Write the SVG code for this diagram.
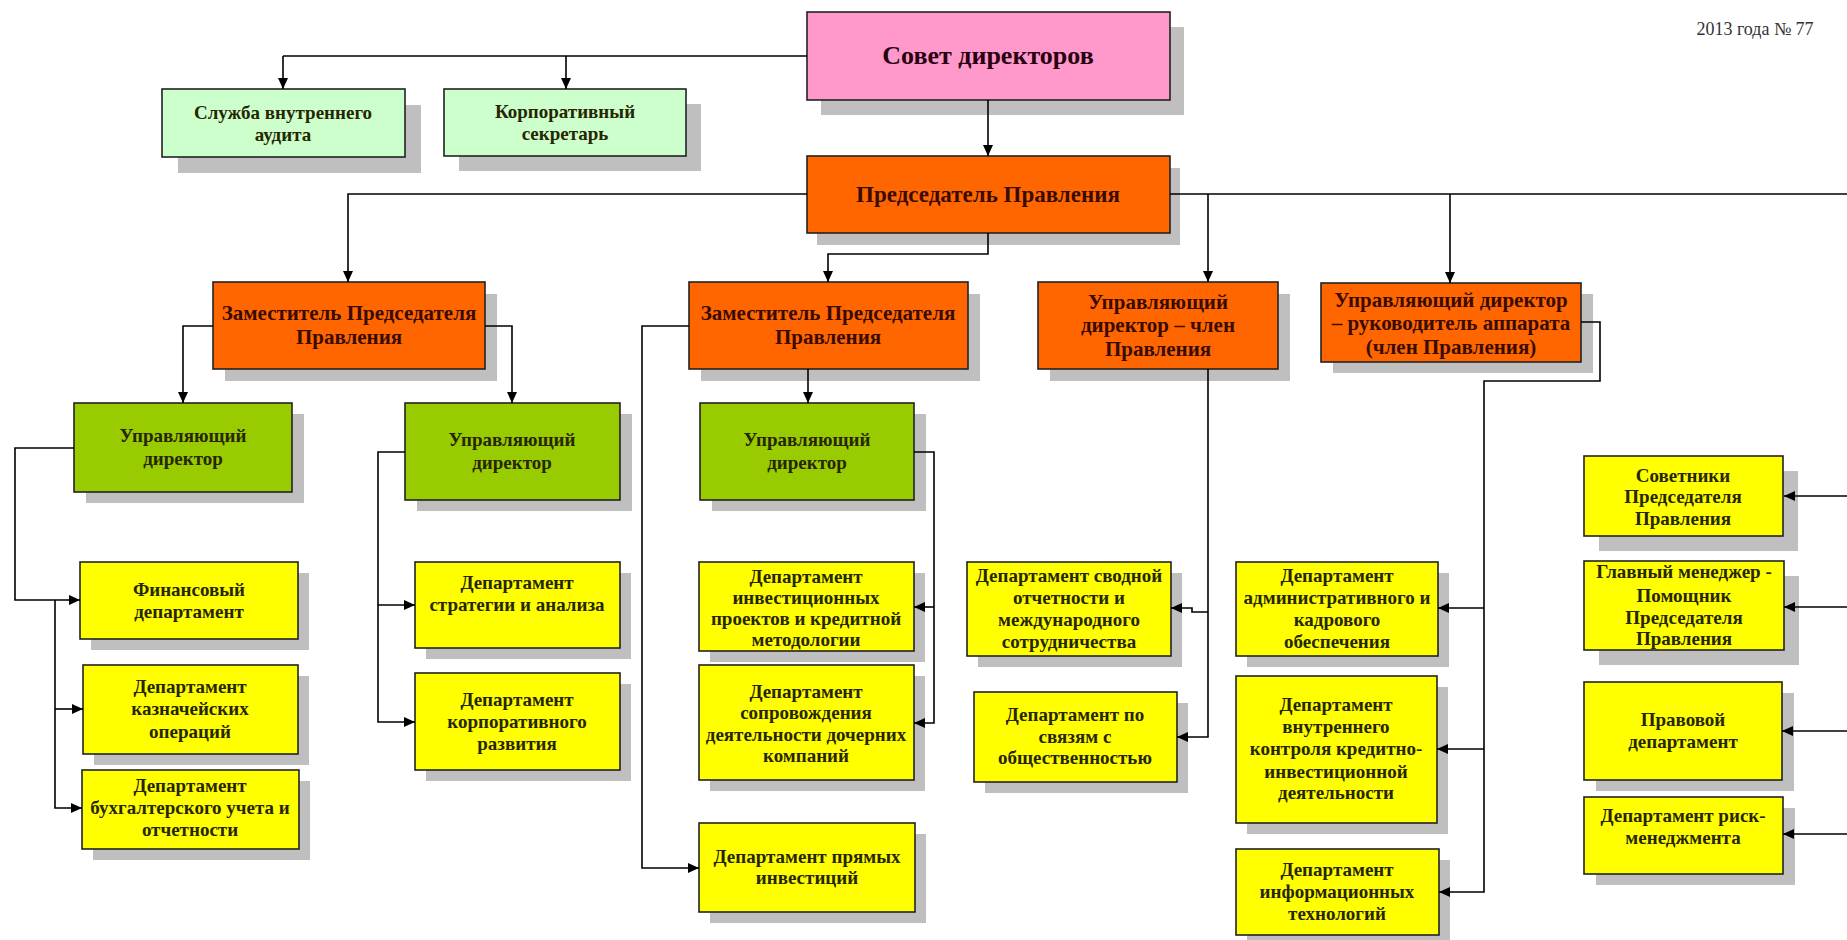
<svg xmlns="http://www.w3.org/2000/svg" width="1847" height="940" viewBox="0 0 1847 940">
<defs>
<marker id="ah" markerWidth="12" markerHeight="10" refX="11" refY="5" orient="auto" markerUnits="userSpaceOnUse">
<path d="M0,0 L11,5 L0,10 z" fill="#000"/>
</marker>
<style>
.sh{fill:#bfbfbf}
.bx{stroke:#222;stroke-width:1.6}
.pink{fill:#ff99cc}
.or{fill:#ff6600}
.gr{fill:#99cc00}
.lg{fill:#ccffcc}
.ye{fill:#ffff00}
text{font-family:"Liberation Serif","Times New Roman",serif;font-weight:bold;text-anchor:middle;fill:#262600}
.t{font-size:19px}
.tz{font-size:21px;fill:#3a0c00}
.tp{font-size:23px;fill:#3a0c00}
.ts{font-size:26px;fill:#2a0010}
.cn{fill:none;stroke:#000;stroke-width:1.6}
.cna{fill:none;stroke:#000;stroke-width:1.6;marker-end:url(#ah)}
.note{font-weight:normal;font-size:18px;fill:#333}
</style>
</defs>

<text class="note" x="1755" y="35">2013 года № 77</text>

<g id="sovet">
<rect class="sh" x="821" y="27" width="363" height="88"/>
<rect class="bx pink" x="807" y="12" width="363" height="88"/>
<text class="ts" x="988" y="64">Совет директоров</text>
</g>

<g id="audit">
<rect class="sh" x="178" y="105" width="243" height="68"/>
<rect class="bx lg" x="162" y="89" width="243" height="68"/>
<text class="t" x="283" y="119">Служба внутреннего</text>
<text class="t" x="283" y="141">аудита</text>
</g>

<g id="secretary">
<rect class="sh" x="459" y="104" width="242" height="67"/>
<rect class="bx lg" x="444" y="89" width="242" height="67"/>
<text class="t" x="565" y="118">Корпоративный</text>
<text class="t" x="565" y="140">секретарь</text>
</g>

<g id="chairman">
<rect class="sh" x="817" y="168" width="363" height="77"/>
<rect class="bx or" x="807" y="156" width="363" height="77"/>
<text class="tp" x="988" y="202">Председатель Правления</text>
</g>

<g id="deputy1">
<rect class="sh" x="225" y="294" width="272" height="87"/>
<rect class="bx or" x="213" y="282" width="272" height="87"/>
<text class="tz" x="349" y="320">Заместитель Председателя</text>
<text class="tz" x="349" y="344">Правления</text>
</g>

<g id="deputy2">
<rect class="sh" x="701" y="294" width="279" height="87"/>
<rect class="bx or" x="689" y="282" width="279" height="87"/>
<text class="tz" x="828" y="320">Заместитель Председателя</text>
<text class="tz" x="828" y="344">Правления</text>
</g>

<g id="md-member">
<rect class="sh" x="1050" y="294" width="240" height="87"/>
<rect class="bx or" x="1038" y="282" width="240" height="87"/>
<text class="tz" x="1158" y="309">Управляющий</text>
<text class="tz" x="1158" y="332">директор – член</text>
<text class="tz" x="1158" y="356">Правления</text>
</g>

<g id="md-office">
<rect class="sh" x="1333" y="294" width="260" height="79"/>
<rect class="bx or" x="1321" y="283" width="260" height="79"/>
<text class="tz" x="1451" y="307">Управляющий директор</text>
<text class="tz" x="1451" y="330">– руководитель аппарата</text>
<text class="tz" x="1451" y="354">(член Правления)</text>
</g>

<g id="md1">
<rect class="sh" x="86" y="414" width="218" height="89"/>
<rect class="bx gr" x="74" y="403" width="218" height="89"/>
<text class="t" x="183" y="442">Управляющий</text>
<text class="t" x="183" y="465">директор</text>
</g>

<g id="md2">
<rect class="sh" x="417" y="414" width="215" height="97"/>
<rect class="bx gr" x="405" y="403" width="215" height="97"/>
<text class="t" x="512" y="446">Управляющий</text>
<text class="t" x="512" y="469">директор</text>
</g>

<g id="md3">
<rect class="sh" x="712" y="414" width="214" height="97"/>
<rect class="bx gr" x="700" y="403" width="214" height="97"/>
<text class="t" x="807" y="446">Управляющий</text>
<text class="t" x="807" y="469">директор</text>
</g>

<g id="finance">
<rect class="sh" x="91" y="573" width="218" height="77"/>
<rect class="bx ye" x="80" y="562" width="218" height="77"/>
<text class="t" x="189" y="596">Финансовый</text>
<text class="t" x="189" y="618">департамент</text>
</g>

<g id="treasury">
<rect class="sh" x="94" y="676" width="215" height="89"/>
<rect class="bx ye" x="83" y="665" width="215" height="89"/>
<text class="t" x="190" y="693">Департамент</text>
<text class="t" x="190" y="715">казначейских</text>
<text class="t" x="190" y="738">операций</text>
</g>

<g id="accounting">
<rect class="sh" x="93" y="781" width="217" height="79"/>
<rect class="bx ye" x="82" y="770" width="217" height="79"/>
<text class="t" x="190" y="792">Департамент</text>
<text class="t" x="190" y="814">бухгалтерского учета и</text>
<text class="t" x="190" y="836">отчетности</text>
</g>

<g id="strategy">
<rect class="sh" x="426" y="573" width="205" height="86"/>
<rect class="bx ye" x="415" y="562" width="205" height="86"/>
<text class="t" x="517" y="589">Департамент</text>
<text class="t" x="517" y="611">стратегии и анализа</text>
</g>

<g id="corpdev">
<rect class="sh" x="426" y="684" width="205" height="97"/>
<rect class="bx ye" x="415" y="673" width="205" height="97"/>
<text class="t" x="517" y="706">Департамент</text>
<text class="t" x="517" y="728">корпоративного</text>
<text class="t" x="517" y="750">развития</text>
</g>

<g id="invest">
<rect class="sh" x="710" y="573" width="215" height="89"/>
<rect class="bx ye" x="699" y="562" width="215" height="89"/>
<text class="t" x="806" y="583">Департамент</text>
<text class="t" x="806" y="604">инвестиционных</text>
<text class="t" x="806" y="625">проектов и кредитной</text>
<text class="t" x="806" y="646">методологии</text>
</g>

<g id="subsidiaries">
<rect class="sh" x="710" y="676" width="215" height="115"/>
<rect class="bx ye" x="699" y="665" width="215" height="115"/>
<text class="t" x="806" y="698">Департамент</text>
<text class="t" x="806" y="719">сопровождения</text>
<text class="t" x="806" y="741">деятельности дочерних</text>
<text class="t" x="806" y="762">компаний</text>
</g>

<g id="direct">
<rect class="sh" x="710" y="834" width="216" height="89"/>
<rect class="bx ye" x="699" y="823" width="216" height="89"/>
<text class="t" x="807" y="863">Департамент прямых</text>
<text class="t" x="807" y="884">инвестиций</text>
</g>

<g id="consolidated">
<rect class="sh" x="978" y="573" width="204" height="94"/>
<rect class="bx ye" x="967" y="562" width="204" height="94"/>
<text class="t" x="1069" y="582">Департамент сводной</text>
<text class="t" x="1069" y="604">отчетности и</text>
<text class="t" x="1069" y="626">международного</text>
<text class="t" x="1069" y="648">сотрудничества</text>
</g>

<g id="pr">
<rect class="sh" x="985" y="703" width="203" height="90"/>
<rect class="bx ye" x="974" y="692" width="203" height="90"/>
<text class="t" x="1075" y="721">Департамент по</text>
<text class="t" x="1075" y="743">связям с</text>
<text class="t" x="1075" y="764">общественностью</text>
</g>

<g id="admin">
<rect class="sh" x="1247" y="573" width="202" height="94"/>
<rect class="bx ye" x="1236" y="562" width="202" height="94"/>
<text class="t" x="1337" y="582">Департамент</text>
<text class="t" x="1337" y="604">административного и</text>
<text class="t" x="1337" y="626">кадрового</text>
<text class="t" x="1337" y="648">обеспечения</text>
</g>

<g id="control">
<rect class="sh" x="1247" y="687" width="201" height="147"/>
<rect class="bx ye" x="1236" y="676" width="201" height="147"/>
<text class="t" x="1336" y="711">Департамент</text>
<text class="t" x="1336" y="733">внутреннего</text>
<text class="t" x="1336" y="755">контроля кредитно-</text>
<text class="t" x="1336" y="778">инвестиционной</text>
<text class="t" x="1336" y="799">деятельности</text>
</g>

<g id="it">
<rect class="sh" x="1247" y="860" width="203" height="86"/>
<rect class="bx ye" x="1236" y="849" width="203" height="86"/>
<text class="t" x="1337" y="876">Департамент</text>
<text class="t" x="1337" y="898">информационных</text>
<text class="t" x="1337" y="920">технологий</text>
</g>

<g id="advisers">
<rect class="sh" x="1599" y="471" width="199" height="80"/>
<rect class="bx ye" x="1584" y="456" width="199" height="80"/>
<text class="t" x="1683" y="482">Советники</text>
<text class="t" x="1683" y="503">Председателя</text>
<text class="t" x="1683" y="525">Правления</text>
</g>

<g id="chief-manager">
<rect class="sh" x="1599" y="576" width="200" height="89"/>
<rect class="bx ye" x="1584" y="561" width="200" height="89"/>
<text class="t" x="1684" y="578">Главный менеджер -</text>
<text class="t" x="1684" y="602">Помощник</text>
<text class="t" x="1684" y="624">Председателя</text>
<text class="t" x="1684" y="645">Правления</text>
</g>

<g id="legal">
<rect class="sh" x="1596" y="693" width="198" height="98"/>
<rect class="bx ye" x="1584" y="682" width="198" height="98"/>
<text class="t" x="1683" y="726">Правовой</text>
<text class="t" x="1683" y="748">департамент</text>
</g>

<g id="risk">
<rect class="sh" x="1596" y="808" width="199" height="77"/>
<rect class="bx ye" x="1584" y="797" width="199" height="77"/>
<text class="t" x="1683" y="822">Департамент риск-</text>
<text class="t" x="1683" y="844">менеджмента</text>
</g>

<g id="connectors">
<path class="cn" d="M807,56 H283"/>
<path class="cna" d="M283,56 V89"/>
<path class="cna" d="M566,56 V89"/>
<path class="cna" d="M988,100 V156"/>
<path class="cna" d="M807,194 H348 V282"/>
<path class="cna" d="M988,233 V254 H828 V282"/>
<path class="cn" d="M1170,194 H1850 V835"/>
<path class="cna" d="M1208,194 V282"/>
<path class="cna" d="M1450,194 V283"/>
<path class="cna" d="M1850,496 H1784"/>
<path class="cna" d="M1850,607 H1784"/>
<path class="cna" d="M1850,731 H1782"/>
<path class="cna" d="M1850,834 H1783"/>
<path class="cna" d="M213,326 H183 V403"/>
<path class="cna" d="M485,326 H512 V403"/>
<path class="cna" d="M74,448 H15 V600 H80"/>
<path class="cna" d="M55,600 V808 H82"/>
<path class="cna" d="M55,709 H83"/>
<path class="cna" d="M405,452 H378 V722 H415"/>
<path class="cna" d="M378,605 H415"/>
<path class="cna" d="M689,326 H642 V868 H699"/>
<path class="cna" d="M808,369 V403"/>
<path class="cna" d="M914,452 H934 V723 H914"/>
<path class="cna" d="M934,607 H914"/>
<path class="cna" d="M1208,369 V737 H1177"/>
<path class="cna" d="M1208,612 H1192 V608 H1171"/>
<path class="cna" d="M1581,322 H1600 V381 H1484 V892 H1439"/>
<path class="cna" d="M1484,608 H1438"/>
<path class="cna" d="M1484,749 H1437"/>
</g>
</svg>
